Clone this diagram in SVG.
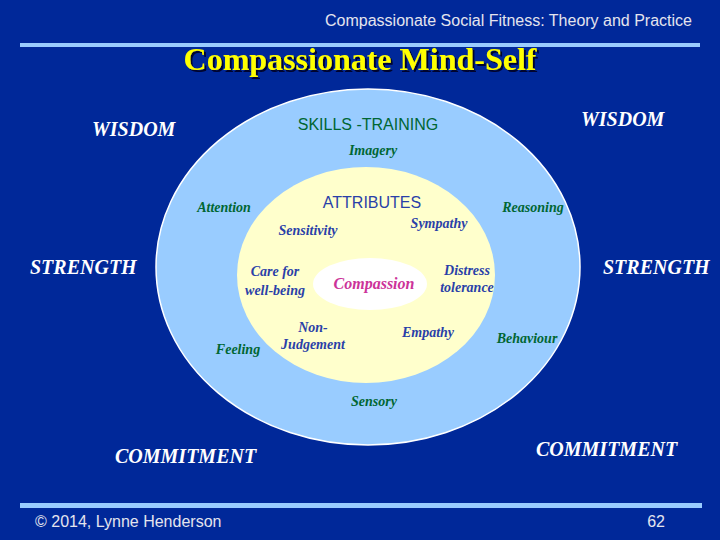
<svg xmlns="http://www.w3.org/2000/svg" width="720" height="540" viewBox="0 0 720 540">
<style>
.hdr{font-family:"Liberation Sans",Arial,sans-serif;fill:#e4e4ee}
.big{font-family:"Liberation Serif","Times New Roman",serif;font-weight:bold;font-style:italic;font-size:20px;fill:#ffffff}
.sk{font-family:"Liberation Serif","Times New Roman",serif;font-weight:bold;font-style:italic;font-size:14px;fill:#006633}
.at{font-family:"Liberation Serif","Times New Roman",serif;font-weight:bold;font-style:italic;font-size:14px;fill:#2a3fa8}
.sans{font-family:"Liberation Sans",Arial,sans-serif;font-size:16px}
</style>
<defs>
<filter id="sh" x="-5%" y="-20%" width="110%" height="150%">
<feDropShadow dx="2" dy="2" stdDeviation="0" flood-color="#000022" flood-opacity="0.9"/>
</filter>
</defs>
<rect width="720" height="540" fill="#002899"/>
<rect x="20" y="43" width="680" height="4" fill="#99ccff"/>
<rect x="20" y="503" width="682" height="5" fill="#99ccff"/>
<text class="hdr" x="692" y="26" font-size="16" text-anchor="end">Compassionate Social Fitness: Theory and Practice</text>
<text x="360" y="70" text-anchor="middle" font-family="'Liberation Serif','Times New Roman',serif" font-weight="bold" font-size="32" fill="#ffff00" filter="url(#sh)">Compassionate Mind-Self</text>
<g id="outer">
<ellipse cx="368" cy="267" rx="212" ry="178" fill="#99ccff" stroke="#ffffff" stroke-width="1.5"/>
</g>
<g id="inner">
<ellipse cx="366" cy="275" rx="129" ry="108" fill="#ffffcc"/>
</g>
<g id="compassion">
<ellipse cx="370" cy="284" rx="57" ry="26" fill="#ffffff"/>
<text x="374" y="289" text-anchor="middle" font-family="'Liberation Serif','Times New Roman',serif" font-weight="bold" font-style="italic" font-size="16" fill="#cc3399">Compassion</text>
</g>
<g id="connectors"></g>
<g id="labels">
<text class="big" x="92" y="136">WISDOM</text>
<text class="big" x="581" y="126">WISDOM</text>
<text class="big" x="30" y="274">STRENGTH</text>
<text class="big" x="603" y="274">STRENGTH</text>
<text class="big" x="115" y="463">COMMITMENT</text>
<text class="big" x="536" y="456">COMMITMENT</text>
<text class="sans" x="368" y="130" text-anchor="middle" fill="#006633">SKILLS -TRAINING</text>
<text class="sk" x="373" y="155" text-anchor="middle">Imagery</text>
<text class="sk" x="224" y="212" text-anchor="middle">Attention</text>
<text class="sk" x="533" y="212" text-anchor="middle">Reasoning</text>
<text class="sk" x="238" y="354" text-anchor="middle">Feeling</text>
<text class="sk" x="527" y="343" text-anchor="middle">Behaviour</text>
<text class="sk" x="374" y="406" text-anchor="middle">Sensory</text>
<text class="sans" x="372" y="208" text-anchor="middle" fill="#2a3fa8">ATTRIBUTES</text>
<text class="at" x="439" y="228" text-anchor="middle">Sympathy</text>
<text class="at" x="308" y="235" text-anchor="middle">Sensitivity</text>
<text class="at" x="275" y="276" text-anchor="middle">Care for</text>
<text class="at" x="275" y="295" text-anchor="middle">well-being</text>
<text class="at" x="467" y="275" text-anchor="middle">Distress</text>
<text class="at" x="467" y="292" text-anchor="middle">tolerance</text>
<text class="at" x="313" y="332" text-anchor="middle">Non-</text>
<text class="at" x="313" y="349" text-anchor="middle">Judgement</text>
<text class="at" x="428" y="337" text-anchor="middle">Empathy</text>
</g>
<text class="hdr" x="35" y="527" font-size="16">© 2014, Lynne Henderson</text>
<text class="hdr" x="665" y="527" font-size="16" text-anchor="end">62</text>
</svg>
